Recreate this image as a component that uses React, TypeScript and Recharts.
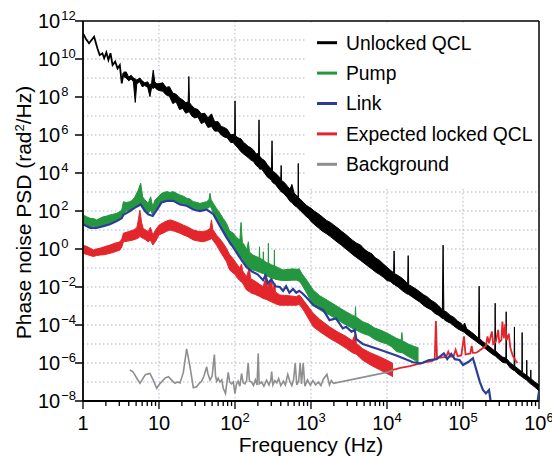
import { Area, CartesianGrid, ComposedChart, Label, Line, ReferenceLine, XAxis, YAxis } from 'recharts';

const FONT = '"Liberation Sans", Arial, Helvetica, sans-serif';

const DECADES_X = [1, 10, 100, 1e3, 1e4, 1e5, 1e6];
const MINOR_STEPS = [2, 3, 4, 5, 6, 7, 8, 9];
const GRID_X = [10, 100, 1e3, 1e4, 1e5];
const Y_TICKS = [1e-8, 1e-6, 1e-4, 1e-2, 1, 1e2, 1e4, 1e6, 1e8, 1e10, 1e12];
const GRID_Y = [1e-7, 1e-6, 1e-5, 1e-4, 1e-3, 1e-2, 0.1, 1, 10, 100, 1e3, 1e4, 1e5, 1e6, 1e7, 1e8, 1e9, 1e10, 1e11];

const SERIES = [
  { name: 'Unlocked QCL', color: '#000000' },
  { name: 'Pump', color: '#23963f' },
  { name: 'Link', color: '#2b3d98' },
  { name: 'Expected locked QCL', color: '#e2262b' },
  { name: 'Background', color: '#8e8e8e' },
];

// [frequency Hz, PSD]
const unlockedThin: [number, number][] = [
  [1, 2.2e11], [1.1, 1.1e11], [1.2, 6.8e10], [1.4, 1.5e11], [1.55, 3.6e10], [1.66, 1.6e10],
  [1.8, 2e10], [1.9, 1.1e10], [2.03, 2.2e10], [2.16, 8.9e9], [2.3, 2e10], [2.45, 4.8e9],
  [2.65, 7.2e9], [2.85, 3.2e9], [3.05, 4.8e9], [3.24, 5.2e8], [3.4, 1.8e9],
];

// [frequency Hz, lower edge, upper edge]
const unlockedBand: [number, number, number][] = [
  [3.4, 1.2e9, 2.0e9], [3.7, 1.0e9, 2.1e9], [4.0, 7.1e8, 1.1e9], [4.3, 8.9e8, 1.4e9], [4.6, 6.3e8, 1.0e9],
  [4.87, 5.2e7, 8.9e8], [5.1, 5.0e8, 7.9e8], [5.6, 6.3e8, 1.0e9], [6.0, 3.5e8, 7.1e8], [6.5, 4.0e8, 5.6e8],
  [7.1, 3.2e8, 6.3e8], [7.6, 1.05e8, 4.0e8], [8.0, 3.2e8, 5.6e8], [8.4, 2.8e8, 2.6e9], [8.8, 3.2e8, 6.3e8],
  [9.4, 2.5e8, 5.0e8], [10, 2.2e8, 5.0e8], [11.2, 2.0e8, 5.6e8], [12.4, 1.3e8, 3.2e8], [13.7, 1.1e8, 3.5e8],
  [15.2, 4.5e7, 1.6e8], [16.8, 5.6e7, 1.4e8], [18.6, 2.2e7, 8.9e7], [20.5, 2.5e7, 7.1e7], [22.5, 1.4e7, 5.0e7],
  [24.2, 1.6e7, 5.6e7], [24.7, 1.6e7, 1.2e9], [25.2, 1.6e7, 5.0e7], [27, 1.0e7, 3.5e7], [29.5, 7.9e6, 2.5e7],
  [32.5, 8.9e6, 2.2e7], [36, 4.0e6, 1.3e7], [40, 5.0e6, 1.4e7], [44, 2.5e6, 7.9e6], [49, 2.8e6, 1.3e7],
  [54, 1.6e6, 5.0e6], [60, 1.6e6, 5.0e6], [66, 1.0e6, 2.8e6], [72, 7.9e5, 2.5e6], [79, 7.1e5, 2.0e6],
  [88, 4.0e5, 1.0e6], [95, 4.0e5, 1.1e6], [99, 3.2e5, 1.0e6], [100, 3.2e5, 6.3e7], [101.5, 2.8e5, 8.9e5],
  [110, 2.0e5, 7.1e5], [120, 1.3e5, 6.3e5], [130, 1.0e5, 4.0e5], [140, 7.9e4, 3.2e5], [150, 6.3e4, 2.5e5],
  [160, 5.0e4, 2.2e5], [175, 4.0e4, 1.6e5], [190, 2.5e4, 1.0e5], [204, 2.0e4, 1.1e5], [207, 2.0e4, 6.3e6],
  [210, 1.6e4, 7.9e4], [225, 1.6e4, 5.6e4], [245, 1.0e4, 4.5e4], [265, 6.3e3, 2.8e4], [285, 5.0e3, 2.0e4],
  [302, 4.0e3, 1.6e4], [307, 3.5e3, 5.0e5], [312, 3.2e3, 1.26e4], [340, 2.5e3, 1.0e4], [370, 1.6e3, 7.1e3],
  [400, 1.1e3, 5.0e3], [405, 1.0e3, 2.5e4], [410, 1.0e3, 4.0e3], [445, 7.9e2, 3.2e3], [490, 5.0e2, 2.0e3],
  [530, 3.2e2, 1.4e3], [560, 2.8e2, 2.5e3], [600, 2.0e2, 8.9e2], [650, 1.6e2, 6.3e2], [675, 1.4e2, 5.6e2],
  [680, 1.3e2, 3.2e4], [686, 1.3e2, 5.0e2], [730, 1.0e2, 4.0e2], [800, 7.1e1, 2.8e2], [870, 5.0e1, 2.0e2],
  [940, 4.0e1, 1.6e2], [1000, 2.8e1, 1.4e2], [1100, 2.0e1, 1.0e2], [1250, 1.3e1, 7.1e1], [1400, 8.9, 5.0e1],
  [1600, 6.3, 3.2e1], [1800, 4.5, 2.5e1], [2000, 3.2, 1.8e1], [2250, 2.2, 1.26e1], [2500, 1.6, 8.9],
  [2800, 1.1, 6.3], [3200, 7.1e-1, 4.0], [3550, 5.0e-1, 2.8], [4000, 3.5e-1, 2.0], [4500, 2.5e-1, 1.6],
  [5000, 1.8e-1, 1.0], [5600, 1.26e-1, 7.1e-1], [6300, 8.9e-2, 5.6e-1], [7000, 6.3e-2, 3.5e-1], [8000, 4.5e-2, 2.5e-1],
  [9000, 3.2e-2, 1.6e-1], [10000, 2.2e-2, 1.1e-1], [11000, 2.0e-2, 7.9e-2], [12200, 1.4e-2, 5.6e-2], [12400, 1.4e-2, 7.9e-1],
  [12600, 1.3e-2, 5.0e-2], [14000, 1.0e-2, 4.0e-2], [16000, 6.3e-3, 2.8e-2], [18000, 4.5e-3, 1.8e-2], [18700, 4.2e-3, 1.5e-2],
  [19000, 4.2e-3, 4.5e-1], [19300, 4.0e-3, 1.3e-2], [21000, 3.2e-3, 1.1e-2], [24000, 2.2e-3, 7.9e-3], [27000, 1.6e-3, 5.6e-3],
  [30000, 1.1e-3, 4.0e-3], [34000, 7.9e-4, 3.0e-3], [38000, 6.3e-4, 2.0e-3], [43000, 4.0e-4, 1.5e-3], [48000, 3.2e-4, 1.0e-3],
  [53500, 2.2e-4, 6.3e-4], [54700, 2.2e-4, 1.6], [56000, 2.0e-4, 5.6e-4], [60000, 1.6e-4, 5.0e-4], [68000, 1.26e-4, 3.2e-4],
  [76000, 8.9e-5, 2.5e-4], [85000, 6.3e-5, 1.6e-4], [95000, 5.0e-5, 1.2e-4], [100000, 4.5e-5, 8.9e-5], [105000, 4.0e-5, 1.26e-4],
  [112000, 3.2e-5, 6.3e-5], [126000, 2.2e-5, 4.5e-5], [141000, 1.6e-5, 3.2e-5], [160000, 1.1e-5, 2.0e-5], [163000, 1.0e-5, 1.1e-2],
  [166000, 1.0e-5, 1.9e-5], [180000, 7.6e-6, 1.4e-5], [200000, 5.4e-6, 1.0e-5], [225000, 3.7e-6, 7.1e-6], [250000, 2.7e-6, 5.0e-6],
  [262000, 2.4e-6, 4.5e-6], [265000, 2.4e-6, 1.4e-3], [268000, 2.3e-6, 4.4e-6], [290000, 1.7e-6, 3.2e-6], [330000, 1.1e-6, 2.1e-6],
  [366000, 1.0e-6, 1.8e-6], [370000, 1.0e-6, 5.0e-4], [374000, 1.0e-6, 1.7e-6], [420000, 5.4e-7, 1.0e-6], [470000, 4.0e-7, 7.1e-7],
  [475000, 4.0e-7, 7.9e-5], [480000, 3.8e-7, 6.8e-7], [540000, 2.5e-7, 4.7e-7], [595000, 1.9e-7, 3.4e-7], [600000, 1.8e-7, 4.0e-5],
  [605000, 1.8e-7, 3.3e-7], [685000, 1.26e-7, 2.2e-7], [690000, 1.26e-7, 1.4e-6], [695000, 1.2e-7, 2.2e-7], [775000, 7.9e-8, 1.5e-7],
  [780000, 7.9e-8, 4.3e-7], [785000, 7.9e-8, 1.5e-7], [880000, 5.4e-8, 1.0e-7], [1000000, 3.5e-8, 7.1e-8],
];

const pumpBand: [number, number, number][] = [
  [1, 2.2e1, 6.2e1], [1.12, 1.8e1, 5.0e1], [1.24, 1.5e1, 4.1e1], [1.38, 1.6e1, 4.0e1], [1.51, 1.5e1, 3.4e1],
  [1.68, 1.7e1, 4.2e1], [1.85, 1.8e1, 5.0e1], [2.05, 2.0e1, 5.4e1], [2.26, 2.2e1, 6.2e1], [2.5, 2.6e1, 6.8e1],
  [2.78, 3.4e1, 7.6e1], [3.0, 3.6e1, 9.0e1], [3.23, 5.0e1, 1.1e2], [3.4, 7.6e1, 3.1e2], [3.7, 1.0e2, 2.8e2],
  [4.15, 1.1e2, 3.1e2], [4.5, 1.3e2, 3.8e2], [4.83, 1.7e2, 5.6e2], [5.34, 1.7e2, 1.26e3], [5.74, 2.5e2, 2.9e3],
  [6.1, 1.7e2, 5.6e2], [6.54, 1.1e2, 3.8e2], [7.2, 7.6e1, 2.5e2], [7.76, 1.1e2, 5.6e2], [8.27, 6.2e1, 1.7e2],
  [8.87, 1.1e2, 3.8e2], [9.8, 1.7e2, 5.6e2], [10.8, 3.1e2, 8.5e2], [12.6, 3.8e2, 1.05e3], [14, 3.6e2, 9.5e2],
  [15.4, 3.8e2, 1.05e3], [17, 3.2e2, 8.5e2], [18.9, 2.5e2, 6.9e2], [21, 2.4e2, 6.0e2], [23.2, 2.1e2, 4.7e2],
  [25.5, 1.8e2, 4.3e2], [28.3, 1.4e2, 3.1e2], [31, 1.3e2, 2.9e2], [34.6, 1.1e2, 2.5e2], [38, 1.2e2, 2.8e2],
  [42.4, 1.4e2, 3.1e2], [45.5, 1.5e2, 4.0e2], [46.9, 1.7e2, 8.5e2], [48.5, 1.5e2, 4.0e2], [51.9, 7.6e1, 2.5e2],
  [57, 4.0e1, 1.4e2], [63.4, 1.8e1, 7.6e1], [70, 8.0, 4.0e1], [77.6, 4.5, 2.2e1], [85, 1.8, 8.9],
  [95, 1.3, 6.8], [105, 6.3e-1, 4.0], [116, 4.0e-1, 3.0], [120, 3.5e-1, 2.5e1], [125, 3.2e-1, 2.2],
  [133, 2.0e-1, 1.6], [142, 1.2e-1, 9.0e-1], [150, 1.1e-1, 2.4], [155, 1.0e-1, 7.0e-1], [170, 8.0e-2, 5.0e-1],
  [190, 7.0e-2, 4.0e-1], [208, 6.0e-2, 3.5e-1], [210, 6.0e-2, 1.3], [212, 5.8e-2, 3.4e-1], [234, 5.2e-2, 2.6e-1],
  [236, 5.2e-2, 7.2e-1], [238, 5.0e-2, 2.6e-1], [255, 4.0e-2, 2.0e-1], [273, 3.5e-2, 1.8e-1], [275, 3.5e-2, 2.0],
  [277, 3.5e-2, 1.8e-1], [300, 3.0e-2, 1.5e-1], [328, 2.7e-2, 1.3e-1], [330, 2.7e-2, 9.0e-1], [332, 2.6e-2, 1.3e-1],
  [388, 2.3e-2, 9.5e-2], [430, 2.2e-2, 7.9e-2], [500, 2.2e-2, 8.5e-2], [580, 2.3e-2, 9.0e-2], [640, 2.3e-2, 8.5e-2],
  [700, 2.0e-2, 9.0e-2], [760, 1.3e-2, 5.0e-2], [880, 4.7e-3, 2.3e-2], [1070, 1.1e-3, 6.9e-3], [1300, 6.3e-4, 3.5e-3],
  [1500, 4.5e-4, 2.5e-3], [1750, 3.4e-4, 1.7e-3], [2100, 2.2e-4, 1.1e-3], [2500, 1.4e-4, 7.1e-4], [2900, 1.0e-4, 5.0e-4],
  [3400, 7.1e-5, 3.5e-4], [3800, 5.6e-5, 2.8e-4], [3850, 5.6e-5, 9.1e-4], [3900, 5.5e-5, 2.7e-4], [4800, 3.6e-5, 1.5e-4],
  [5800, 2.8e-5, 1.1e-4], [6800, 1.8e-5, 7.1e-5], [8100, 1.3e-5, 5.5e-5], [10000, 1.0e-5, 3.8e-5], [11500, 7.1e-6, 2.8e-5],
  [13300, 4.0e-6, 2.0e-5], [15400, 3.5e-6, 1.6e-5], [15700, 3.5e-6, 4.0e-5], [16000, 3.4e-6, 1.5e-5], [19000, 2.2e-6, 1.0e-5],
  [22000, 1.6e-6, 7.9e-6], [26000, 1.0e-6, 6.2e-6],
];

const lockedBand: [number, number, number][] = [
  [1, 5.9e-1, 1.6], [1.15, 5.0e-1, 1.3], [1.37, 4.0e-1, 8.9e-1], [1.5, 4.5e-1, 1.0], [1.67, 4.8e-1, 1.1],
  [1.9, 5.0e-1, 1.3], [2.26, 5.9e-1, 1.6], [2.6, 7.0e-1, 2.0], [3.07, 8.9e-1, 2.4], [3.25, 1.3, 3.5],
  [3.4, 2.4, 6.8], [3.9, 2.6, 8.0], [4.6, 3.0, 1.0e1], [5.1, 3.5, 1.3e1], [5.35, 3.8, 3.5e1],
  [5.6, 4.5, 1.1e2], [5.9, 4.0, 2.5e1], [6.2, 3.6, 1.2e1], [6.7, 3.0, 1.0e1], [7.2, 2.4, 8.1],
  [7.7, 3.0, 1.4e1], [8.3, 1.6, 5.5], [9.0, 2.5, 1.0e1], [10, 5.5, 1.8e1], [11.5, 7.0, 2.5e1],
  [12.6, 8.5, 3.0e1], [14, 1.0e1, 3.4e1], [16, 8.5, 2.9e1], [18.9, 6.8, 2.2e1], [21, 5.5, 1.8e1],
  [23.5, 4.6, 1.5e1], [28.3, 3.0, 1.0e1], [33, 2.6, 8.5], [38, 2.4, 8.1], [43, 2.8, 9.5],
  [47, 3.2, 1.2e1], [49, 3.5, 3.4e1], [51, 3.0, 1.1e1], [57, 1.6, 5.5], [63, 8.0e-1, 3.5],
  [70, 4.0e-1, 2.0], [77, 2.2e-1, 1.1], [85, 7.9e-2, 5.0e-1], [94, 5.5e-2, 3.2e-1], [101, 4.5e-2, 2.1e-1],
  [104, 3.5e-2, 1.8e-1], [115, 2.2e-2, 1.0e-1], [122, 1.8e-2, 1.6e-1], [126, 1.6e-2, 7.1e-2], [142, 6.9e-3, 3.5e-2],
  [155, 5.6e-3, 1.1e-1], [160, 5.0e-3, 2.8e-2], [185, 4.0e-3, 2.0e-2], [210, 3.2e-3, 1.4e-2], [234, 2.5e-3, 1.05e-2],
  [260, 2.2e-3, 4.0e-2], [265, 2.1e-3, 9.0e-3], [305, 1.6e-3, 3.5e-2], [310, 1.5e-3, 7.0e-3], [335, 1.4e-3, 1.6e-2],
  [340, 1.3e-3, 5.5e-3], [388, 1.1e-3, 3.8e-3], [450, 1.1e-3, 3.6e-3], [540, 1.1e-3, 3.4e-3], [640, 1.1e-3, 3.1e-3],
  [700, 1.2e-3, 3.8e-3], [760, 8.0e-4, 2.6e-3], [820, 5.0e-4, 1.7e-3], [1070, 8.1e-5, 4.2e-4], [1300, 4.5e-5, 2.0e-4],
  [1750, 2.0e-5, 8.1e-5], [2200, 1.2e-5, 4.5e-5], [2900, 5.9e-6, 2.5e-5], [3500, 3.5e-6, 1.5e-5], [3850, 3.0e-6, 3.6e-5],
  [3950, 2.9e-6, 1.1e-5], [4800, 1.4e-6, 5.6e-6], [6000, 8.0e-7, 3.5e-6], [8100, 4.3e-7, 2.1e-6], [10000, 2.8e-7, 1.4e-6],
  [12000, 1.9e-7, 9.5e-7],
];

const lockedTail: [number, number][] = [
  [12000, 4.3e-7], [15000, 5.5e-7], [20000, 6.9e-7], [26000, 8.9e-7], [32000, 1.1e-6], [39000, 1.26e-6],
  [42500, 1.6e-6], [44000, 1.6e-4], [45500, 2.0e-6], [50000, 1.9e-6], [60000, 2.1e-6], [64000, 4.0e-6],
  [68000, 2.2e-6], [75000, 2.2e-6], [80000, 5.0e-6], [85000, 2.3e-6], [95000, 2.5e-6], [103000, 2.5e-5],
  [108000, 2.8e-6], [125000, 3.2e-6], [130000, 7.9e-6], [135000, 3.4e-6], [150000, 3.5e-6], [165000, 4.5e-6],
  [185000, 6.3e-6], [200000, 7.9e-6], [210000, 2.5e-5], [220000, 1.1e-5], [240000, 4.5e-5], [250000, 1.0e-5],
  [270000, 1.26e-5], [290000, 5.5e-5], [300000, 1.26e-5], [320000, 1.6e-5], [330000, 1.5e-4], [345000, 2.0e-5],
  [360000, 1.1e-4], [375000, 1.6e-5], [400000, 3.5e-5], [420000, 6.3e-6], [450000, 2.5e-6], [490000, 1.4e-6],
  [520000, 1.0e-6],
];

const link: [number, number][] = [
  [1, 2.0e1], [1.24, 1.3e1], [1.51, 1.3e1], [1.85, 1.6e1], [2.26, 2.0e1], [2.78, 3.0e1], [3.23, 4.2e1],
  [3.4, 6.3e1], [4.15, 1.0e2], [4.83, 1.5e2], [5.74, 2.2e2], [6.54, 1.0e2], [7.2, 6.8e1], [8.27, 5.5e1],
  [9.8, 1.5e2], [10.8, 2.8e2], [12.6, 3.4e2], [15.4, 3.4e2], [18.9, 2.2e2], [23.2, 1.9e2], [28.3, 1.2e2],
  [34.6, 1.0e2], [42.4, 1.2e2], [51.9, 6.8e1], [63.4, 1.6e1], [77.6, 4.0], [95, 1.2], [116, 3.5e-1],
  [142, 1.1e-1], [170, 6.3e-2], [200, 4.5e-2], [234, 2.3e-2], [250, 4.0e-2], [270, 1.6e-2], [300, 2.5e-2],
  [340, 1.1e-2], [388, 1.0e-2], [430, 6.3e-3], [470, 1.1e-2], [520, 5.0e-3], [580, 7.9e-3], [640, 5.0e-3],
  [700, 6.3e-3], [770, 4.7e-3], [900, 2.5e-3], [1070, 1.1e-3], [1250, 8.0e-4], [1450, 6.3e-4], [1750, 1.8e-4],
  [2130, 2.2e-4], [2620, 6.6e-5], [2900, 8.1e-5], [3400, 4.5e-5], [3760, 5.5e-5], [3950, 1.8e-5], [4800, 1.0e-5],
  [8100, 5.0e-6], [13300, 2.5e-6], [22000, 1.1e-6], [28000, 9.5e-7], [35000, 1.4e-6], [45000, 1.6e-6],
  [56000, 3.2e-6], [62000, 1.6e-6], [70000, 3.0e-6], [78000, 1.6e-6], [90000, 1.45e-6], [100000, 7.9e-7],
  [120000, 1.2e-6], [135000, 1.8e-6], [150000, 4.3e-7], [166000, 1.05e-7], [183000, 3.8e-8], [200000, 2.5e-8],
  [220000, 3.8e-8], [230000, 1.1e-8], [245000, 3e-9], [900000, 3e-9], [960000, 1.0e-8], [1000000, 3.2e-8],
];

const background: [number, number][] = [
  [4.15, 4.3e-7], [4.5, 3.5e-7], [4.83, 2.3e-7], [5.2, 1.4e-7], [5.62, 8.5e-8], [6.0, 1.3e-7], [6.54, 2.3e-7],
  [7.0, 2.6e-7], [7.6, 2.8e-7], [8.4, 1.26e-7], [9.33, 4.7e-8], [10.2, 8.0e-8], [10.9, 1.05e-7], [12, 1.6e-7],
  [13.3, 1.9e-7], [14.7, 1.26e-7], [16.2, 8.5e-8], [17.5, 1.0e-7], [18.9, 8.9e-8], [20.9, 3.2e-7], [23.1, 5.6e-6],
  [25.6, 6.3e-7], [28.3, 5.0e-8], [31.3, 5.6e-8], [33.5, 8.0e-8], [36.3, 1.1e-7], [39, 2.0e-7], [42.4, 6.3e-7],
  [44, 2.8e-7], [46.9, 1.26e-7], [50, 2.0e-7], [53.5, 2.8e-6], [55.5, 2.0e-7], [57.5, 1.1e-7], [60, 1.6e-7],
  [63.4, 1.0e-7], [67, 1.3e-7], [70, 4.7e-8], [75, 2.5e-8], [78, 8.9e-8], [81.5, 3.2e-7], [85, 1.0e-7],
  [90, 7.9e-8], [95, 1.0e-7], [99.8, 2.5e-8], [105, 8.0e-8], [110, 1.1e-7], [116, 6.0e-8], [122, 2.8e-7],
  [128, 9.0e-8], [135, 7.9e-8], [142, 1.2e-7], [149, 1.0e-6], [155, 1.1e-7], [165, 1.0e-7], [175, 6.5e-8],
  [185, 1.3e-7], [195, 7.0e-8], [202, 3.2e-6], [208, 8.0e-8], [224, 1.0e-7], [240, 6.0e-8], [260, 1.26e-7],
  [280, 7.0e-8], [295, 1.2e-7], [304, 3.5e-7], [315, 7.0e-8], [335, 1.2e-7], [354, 8.9e-8], [375, 1.5e-7],
  [400, 6.5e-8], [433, 1.1e-7], [460, 7.0e-8], [495, 2.5e-7], [530, 1.0e-7], [560, 6.5e-8], [590, 1.3e-7],
  [620, 1.0e-6], [650, 7.0e-8], [690, 1.2e-7], [720, 1.0e-6], [750, 8.0e-8], [790, 1.0e-6], [830, 6.0e-8],
  [900, 1.3e-7], [980, 6.9e-8], [1060, 1.2e-7], [1150, 7.0e-8], [1250, 1.0e-7], [1350, 6.5e-8], [1450, 1.4e-7],
  [1620, 2.5e-7], [1750, 7.0e-8], [1850, 1.2e-7], [1980, 8.5e-8], [9900, 3.2e-7], [12000, 4.3e-7],
];

const X_TICKS = DECADES_X.flatMap((d) => (d === 1e6 ? [d] : [d, ...MINOR_STEPS.map((m) => d * m)]));

const toLine = (pts: [number, number][]) => pts.map(([f, v]) => ({ f, v }));
const toBand = (pts: [number, number, number][]) => pts.map(([f, lo, hi]) => ({ f, r: [lo, hi] }));

function exponentText(v: number) {
  const e = Math.round(Math.log10(v));
  return e < 0 ? `\u2212${-e}` : `${e}`;
}

function XTick(props: any) {
  const { x, y, payload } = props;
  const v = payload.value;
  const major = DECADES_X.includes(v);
  return (
    <g>
      <line x1={x} x2={x} y1={y} y2={y + (major ? 8 : 5)} stroke="#000" strokeWidth={1.3} />
      {major && (
        <text x={x} y={y + 29} textAnchor="middle" fontSize={20} fontFamily={FONT} fill="#000">
          {v === 1 ? '1' : '10'}
          {v > 10 && (
            <tspan dy={-8} fontSize={13}>
              {exponentText(v)}
            </tspan>
          )}
        </text>
      )}
    </g>
  );
}

function YTick(props: any) {
  const { x, y, payload } = props;
  return (
    <g>
      <line x1={x - 8} x2={x} y1={y} y2={y} stroke="#000" strokeWidth={1.5} />
      <text x={x - 45} y={y + 7} textAnchor="start" fontSize={20} fontFamily={FONT} fill="#000">
        10
        <tspan dx={1} dy={-8} fontSize={13}>
          {exponentText(payload.value)}
        </tspan>
      </text>
    </g>
  );
}

function XTitle(props: any) {
  const { x, y, width } = props.viewBox;
  return (
    <text x={x + width / 2} y={y + 51} textAnchor="middle" fontSize={21} fontFamily={FONT} fill="#000">
      Frequency (Hz)
    </text>
  );
}

function YTitle(props: any) {
  const { y, height } = props.viewBox;
  const cy = y + height / 2 + 1.5;
  return (
    <text x={31} y={cy} transform={`rotate(-90 31 ${cy})`} textAnchor="middle" fontSize={21} fontFamily={FONT} fill="#000">
      Phase noise PSD (rad
      <tspan dy={-7} fontSize={13}>2</tspan>
      <tspan dy={7}>/Hz)</tspan>
    </text>
  );
}

export default function App() {
  const [cUnlocked, cPump, cLink, cLocked, cBg] = SERIES.map((s) => s.color);
  return (
    <div style={{ position: 'absolute', left: 0, top: 0, width: 552, height: 456, background: '#fff' }}>
      <ComposedChart width={552} height={456} margin={{ top: 21, right: 13, bottom: 0, left: 0 }}>
        <CartesianGrid
          stroke="#b3b3cc"
          strokeDasharray="1.5 2.5"
          horizontalValues={GRID_Y}
          verticalValues={GRID_X}
        />
        <XAxis
          type="number"
          dataKey="f"
          scale="log"
          domain={[1, 1e6]}
          allowDataOverflow
          ticks={X_TICKS}
          interval={0}
          tick={<XTick />}
          tickLine={false}
          tickSize={0}
          tickMargin={0}
          height={55}
          axisLine={{ stroke: '#000', strokeWidth: 1.8 }}
        >
          <Label content={<XTitle />} />
        </XAxis>
        <YAxis
          type="number"
          scale="log"
          domain={[1e-8, 1e12]}
          allowDataOverflow
          ticks={Y_TICKS}
          interval={0}
          tick={<YTick />}
          tickLine={false}
          tickSize={0}
          tickMargin={0}
          width={83}
          axisLine={{ stroke: '#000', strokeWidth: 1.8 }}
        >
          <Label content={<YTitle />} />
        </YAxis>
        <ReferenceLine y={1e12} stroke="#000" strokeWidth={1.5} ifOverflow="visible" />
        <ReferenceLine x={1e6} stroke="#000" strokeWidth={1.5} ifOverflow="visible" />

        <Line data={toLine(background)} dataKey="v" type="linear" stroke={cBg} strokeWidth={1.6} dot={false} activeDot={false} isAnimationActive={false} />
        <Line data={toLine(lockedTail)} dataKey="v" type="linear" stroke={cLocked} strokeWidth={1.8} dot={false} activeDot={false} isAnimationActive={false} />
        <Area data={toBand(lockedBand)} dataKey="r" type="linear" stroke={cLocked} strokeWidth={1} fill={cLocked} fillOpacity={1} dot={false} activeDot={false} isAnimationActive={false} />
        <Line data={toLine(link)} dataKey="v" type="linear" stroke={cLink} strokeWidth={2.2} dot={false} activeDot={false} isAnimationActive={false} />
        <Area data={toBand(pumpBand)} dataKey="r" type="linear" stroke={cPump} strokeWidth={1} fill={cPump} fillOpacity={1} dot={false} activeDot={false} isAnimationActive={false} />
        <Line data={toLine(unlockedThin)} dataKey="v" type="linear" stroke={cUnlocked} strokeWidth={1.8} dot={false} activeDot={false} isAnimationActive={false} />
        <Area data={toBand(unlockedBand)} dataKey="r" type="linear" stroke={cUnlocked} strokeWidth={1} fill={cUnlocked} fillOpacity={1} dot={false} activeDot={false} isAnimationActive={false} />
      </ComposedChart>

      <div style={{ position: 'absolute', left: 307, top: 23, width: 231, height: 166, background: '#fff' }}>
        <svg width={231} height={166}>
          {SERIES.map((s, i) => {
            const cy = 19.7 + i * 30.4;
            return (
              <g key={s.name}>
                <line x1={10} x2={30} y1={cy} y2={cy} stroke={s.color} strokeWidth={3} />
                <text x={39} y={cy + 6.8} fontSize={19.3} fontFamily={FONT} fill="#000">
                  {s.name}
                </text>
              </g>
            );
          })}
        </svg>
      </div>
    </div>
  );
}
